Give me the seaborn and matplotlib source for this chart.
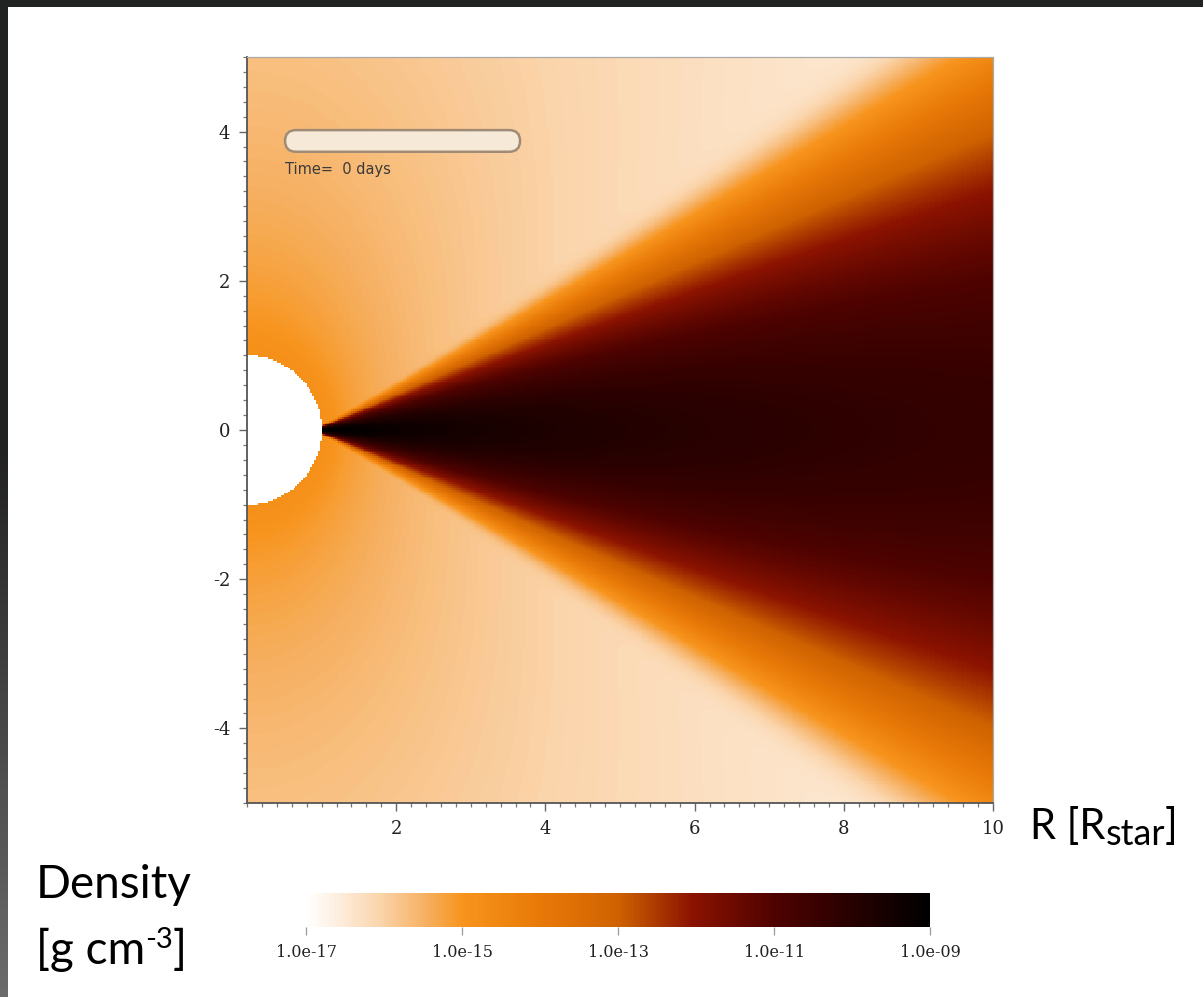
import numpy as np
import pandas as pd
import matplotlib
matplotlib.use("Agg")
import matplotlib.pyplot as plt
import seaborn as sns
from matplotlib.colors import LinearSegmentedColormap, to_rgb
from matplotlib.patches import FancyBboxPatch, Rectangle
from matplotlib.ticker import MultipleLocator

# ---------------- data ----------------
x_range = [0.0, 10.0]                    # R [R_star]
y_range = [-5.0, 5.0]
x_ticks = [2, 4, 6, 8, 10]
y_ticks = [4, 2, 0, -2, -4]
cbar_ticks = [-17, -15, -13, -11, -9]    # log10 density
cbar_labels = ["1.0e-17", "1.0e-15", "1.0e-13", "1.0e-11", "1.0e-09"]
star_radius = 1.0

# disk: log rho = disk_log_rho0 - disk_n*log10(R) - z^2/(2H^2)
#       H = disk_h * (R - disk_r0)^disk_flare
disk_log_rho0 = -8.85
disk_n = 1.45
disk_h = 0.099
disk_r0 = 0.85
disk_flare = 1.1
# surrounding envelope
bg_log_rho0 = -14.8
bg_slope = 1.3
bg_eq_drop = 0.6

time_label = "Time=  0 days"
cmap_pos = [0.0, 0.06, 0.12, 0.19, 0.25, 0.37, 0.50, 0.62, 0.75, 1.0]
cmap_cols = ["#FFFFFF", "#FDEAD6", "#FAD3A8", "#F6B062", "#F7941D",
             "#E97A08", "#CF6200", "#8B1200", "#4F0200", "#000000"]

# ---------------- field ----------------
NX, NY = 400, 400
xc = np.linspace(x_range[0], x_range[1], NX + 1)
xc = 0.5 * (xc[1:] + xc[:-1])
yc = np.linspace(y_range[0], y_range[1], NY + 1)
yc = 0.5 * (yc[1:] + yc[:-1])
X, Y = np.meshgrid(xc, yc)
Rs = np.sqrt(X**2 + Y**2)

log_bg = (bg_log_rho0 - bg_slope * np.log10(Rs)
          - bg_eq_drop * (X / Rs) ** 2 * np.clip(1 - 1 / Rs, 0, 1))
H = disk_h * np.clip(X - disk_r0, 1e-3, None) ** disk_flare
log_d = disk_log_rho0 - disk_n * np.log10(X) - np.log10(np.e) * Y**2 / (2 * H**2)
log_d = np.where(X >= star_radius * 0.98, log_d, -40)
logrho = np.log10(10**log_bg + 10**log_d)
logrho[Rs < star_radius] = np.nan

df = pd.DataFrame(logrho[::-1], index=yc[::-1], columns=xc)

# ---------------- plot ----------------
sns.set_theme(style="ticks")
plt.rcParams["font.family"] = ["DejaVu Sans"]

cmap = LinearSegmentedColormap.from_list(
    "dens", list(zip(cmap_pos, [to_rgb(c) for c in cmap_cols])), N=256)

W, Hpx = 1203, 997
fig = plt.figure(figsize=(W / 100, Hpx / 100), dpi=100)
fig.patch.set_facecolor("white")
ax = fig.add_axes([247 / W, 1 - 803 / Hpx, 746 / W, 746 / Hpx])
cax = fig.add_axes([306 / W, 1 - 927 / Hpx, 624 / W, 34 / Hpx])

sns.heatmap(df, ax=ax, cmap=cmap, vmin=-17, vmax=-9, cbar_ax=cax,
            cbar_kws=dict(orientation="horizontal"),
            xticklabels=False, yticklabels=False, rasterized=True)


def xpos(v):
    return (v - x_range[0]) / (x_range[1] - x_range[0]) * NX


def ypos(v):
    return (y_range[1] - v) / (y_range[1] - y_range[0]) * NY


tick_font = dict(family="DejaVu Serif", size=13, color="#222222")
ax.set_xticks([xpos(v) for v in x_ticks])
ax.set_xticklabels([str(v) for v in x_ticks], **tick_font)
ax.set_yticks([ypos(v) for v in y_ticks])
ax.set_yticklabels([str(v) for v in y_ticks], rotation=0, **tick_font)
ax.xaxis.set_minor_locator(MultipleLocator(NX * 0.2 / 10))
ax.yaxis.set_minor_locator(MultipleLocator(NY * 0.2 / 10))
ax.tick_params(which="major", direction="out", length=6, width=1.0,
               color="#666666", pad=6)
ax.tick_params(which="minor", direction="out", length=3, width=0.9,
               color="#777777")
ax.set_xlabel("")
ax.set_ylabel("")
for name, sp in ax.spines.items():
    sp.set_visible(True)
    if name in ("left", "bottom"):
        sp.set_color("#555555")
        sp.set_linewidth(1.3)
    else:
        sp.set_color("#aaaaaa")
        sp.set_linewidth(0.9)

# time slider bar + label
bar = FancyBboxPatch((0.051, 0.873), 0.315, 0.029,
                     boxstyle="round,pad=0,rounding_size=0.0145",
                     transform=ax.transAxes, facecolor="#F6E9D7",
                     edgecolor="#A08C76", linewidth=1.8, zorder=5)
ax.add_patch(bar)
ax.text(0.051, 0.849, time_label, transform=ax.transAxes, fontsize=10.5,
        color="#3a3a3a", va="center", ha="left", zorder=6)

# colorbar styling
cb = ax.collections[0].colorbar
cb.set_ticks(cbar_ticks)
cb.set_ticklabels(cbar_labels)
cb.outline.set_visible(False)
cax.tick_params(direction="out", length=6, width=0.9, color="#999999", pad=6)
for lbl in cax.get_xticklabels():
    lbl.set_fontfamily("DejaVu Serif")
    lbl.set_fontsize(11.5)
    lbl.set_color("#222222")

# outer texts, placed piece by piece
renderer = fig.canvas.get_renderer()


def pieces(x0_px, base_px, parts):
    x = x0_px
    for txt, size, dy in parts:
        t = fig.text(x / W, 1 - (base_px + dy) / Hpx, txt, fontsize=size,
                     family="Lato", ha="left", va="baseline", color="black")
        bb = t.get_window_extent(renderer=renderer)
        x += bb.width


pieces(1030, 839, [("R [R", 30, 0), ("star", 26, 6), ("]", 30, 0)])
pieces(36, 898, [("Density", 33, 0)])
pieces(36, 964, [("[g cm", 33, 0), ("-3", 21, -16), ("]", 33, 0)])

# dark screen border (top and left)
fig.add_artist(Rectangle((0, 1 - 7 / Hpx), 1, 7 / Hpx, transform=fig.transFigure,
                         facecolor="#212322", edgecolor="none", zorder=20))
sax = fig.add_axes([0, 0, 7 / W, 1])
grad = np.concatenate([np.zeros(450), np.linspace(0, 1, 547)])[:, None]
c0 = np.array(to_rgb("#212322"))
c1 = np.array(to_rgb("#6c6c6c"))
img = c0[None, None, :] * (1 - grad[..., None]) + c1[None, None, :] * grad[..., None]
sax.imshow(img, aspect="auto", extent=[0, 1, 0, 1], origin="upper")
sax.axis("off")

fig.savefig("out.png", dpi=100, facecolor="white")
